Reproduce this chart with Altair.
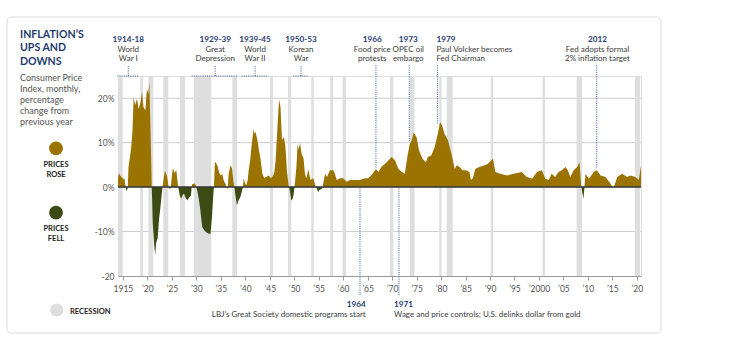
import altair as alt
import pandas as pd

# ---------------- data ----------------
years = [1914.0, 1914.2, 1914.5, 1914.8, 1915.0, 1915.3, 1915.55, 1915.8, 1916.0, 1916.15,
         1916.4, 1916.7, 1916.95, 1917.2, 1917.5, 1917.9, 1918.2, 1918.6, 1918.9, 1919.2,
         1919.6, 1919.9, 1920.2, 1920.4, 1920.6, 1920.9, 1921.1, 1921.4, 1921.6, 1921.8,
         1922.1, 1922.4, 1922.6, 1922.9, 1923.1, 1923.4, 1923.6, 1924.0, 1924.35, 1924.6,
         1924.8, 1925.0, 1925.2, 1925.6, 1925.9, 1926.3, 1926.6, 1926.9, 1927.2, 1927.5,
         1927.8, 1928.2, 1928.5, 1928.9, 1929.05, 1929.2, 1929.6, 1929.9, 1930.0, 1930.2,
         1930.5, 1930.8, 1931.0, 1931.2, 1931.5, 1931.9, 1932.3, 1932.6, 1932.9, 1933.2,
         1933.45, 1933.6, 1933.8, 1934.0, 1934.3, 1934.7, 1935.0, 1935.3, 1935.6, 1936.0,
         1936.15, 1936.3, 1936.45, 1936.6, 1937.0, 1937.3, 1937.6, 1937.8, 1938.0, 1938.3,
         1938.6, 1939.0, 1939.35, 1939.5, 1939.7, 1940.0, 1940.2, 1940.5, 1940.7, 1941.0,
         1941.3, 1941.7, 1941.9, 1942.1, 1942.5, 1942.8, 1943.1, 1943.5, 1943.9, 1944.2,
         1944.8, 1945.2, 1945.5, 1945.9, 1946.2, 1946.5, 1946.9, 1947.2, 1947.5, 1947.9,
         1948.2, 1948.5, 1948.85, 1949.0, 1949.2, 1949.4, 1949.7, 1949.9, 1950.05, 1950.2,
         1950.45, 1950.7, 1950.9, 1951.2, 1951.5, 1951.9, 1952.2, 1952.5, 1952.9, 1953.3,
         1953.9, 1954.3, 1954.5, 1954.9, 1955.2, 1955.6, 1955.8, 1956.3, 1956.7, 1957.3,
         1958.0, 1958.3, 1958.7, 1959.4, 1960.0, 1960.7, 1961.4, 1962.4, 1963.4, 1964.5,
         1965.1, 1965.8, 1966.7, 1967.2, 1967.8, 1968.9, 1969.9, 1970.6, 1971.3, 1972.0,
         1972.6, 1973.1, 1973.6, 1974.0, 1974.4, 1975.0, 1975.5, 1976.2, 1976.9, 1977.3,
         1978.0, 1978.7, 1979.4, 1979.8, 1980.2, 1980.7, 1981.4, 1982.1, 1982.8, 1983.2,
         1983.8, 1984.4, 1985.1, 1985.8, 1986.1, 1986.5, 1987.0, 1987.8, 1988.9, 1989.5,
         1990.2, 1990.6, 1991.1, 1992.1, 1993.5, 1994.8, 1996.5, 1997.5, 1998.6, 1999.6,
         2000.6, 2001.3, 2002.0, 2002.6, 2003.3, 2004.0, 2004.7, 2005.4, 2005.9, 2006.4,
         2007.1, 2007.8, 2008.3, 2008.6, 2008.7, 2008.8, 2009.1, 2009.3, 2009.5, 2010.2,
         2011.2, 2011.8, 2012.6, 2013.6, 2014.6, 2015.0, 2015.1, 2015.3, 2016.0, 2017.0,
         2018.0, 2018.7, 2019.7, 2020.1, 2020.4, 2020.6, 2020.85]
cpi = [2.0, 3.1, 2.5, 2.2, 1.8, 2.0, 0.0, -1.0, 0.0, 4.5,
       6.5, 9.0, 12.5, 20.3, 18.5, 19.9, 17.6, 19.0, 21.4, 18.0,
       17.3, 22.1, 21.0, 23.7, 15.0, 0.0, -8.0, -13.0, -15.3, -12.5,
       -11.5, -7.0, -5.2, -2.0, 0.0, 2.5, 3.7, 2.5, 0.0, -0.4,
       0.0, 2.5, 4.2, 3.2, 3.9, 0.0, -1.8, -2.6, -1.8, -1.5,
       -2.4, -3.0, -2.4, -1.9, 0.0, 0.7, 0.8, 0.4, 0.0, -0.8,
       -2.6, -5.0, -7.0, -9.0, -9.5, -10.1, -10.3, -10.5, -10.5, -6.7,
       -2.0, 0.0, 5.7, 5.4, 4.9, 3.2, 2.6, 3.0, 1.5, 0.6,
       0.0, -0.4, 0.0, 3.0, 4.9, 4.2, 1.1, 0.0, -2.0, -4.1,
       -3.0, -2.2, -0.8, 0.0, 1.9, 0.8, 0.4, 1.6, 3.8, 6.0,
       9.5, 13.1, 12.0, 12.4, 10.5, 8.3, 6.5, 3.0, 2.0, 2.3,
       2.6, 2.0, 2.3, 3.0, 6.0, 12.0, 19.7, 18.0, 10.6, 11.3,
       9.1, 3.8, 0.4, 0.0, -1.5, -3.0, -2.5, -1.5, 0.0, 1.5,
       4.5, 9.7, 8.5, 9.9, 7.5, 6.5, 2.9, 2.0, 4.0, 1.6,
       2.0, 0.4, 0.0, -1.1, -0.6, -0.4, 0.0, 3.0, 2.3, 3.8,
       3.8, 3.0, 1.6, 2.0, 2.0, 1.2, 1.6, 1.6, 1.6, 2.0,
       2.0, 2.7, 4.1, 3.4, 4.5, 5.6, 6.8, 6.0, 4.1, 3.4,
       3.0, 6.8, 9.7, 10.5, 12.3, 11.2, 8.3, 6.4, 5.6, 6.8,
       7.1, 9.0, 12.3, 14.6, 13.9, 12.0, 10.6, 7.6, 4.1, 4.9,
       4.5, 3.8, 3.8, 3.4, 1.6, 2.0, 4.1, 4.5, 4.9, 5.2,
       6.0, 6.4, 3.4, 3.0, 2.6, 3.0, 3.4, 2.3, 1.9, 3.4,
       3.8, 1.9, 1.6, 3.0, 2.3, 3.4, 3.8, 4.5, 3.8, 2.3,
       3.8, 4.5, 5.6, 0.4, 0.0, -0.8, -2.6, 0.0, 3.0, 1.9,
       3.4, 3.8, 2.6, 2.3, 0.8, 0.0, -0.2, 0.0, 2.3, 3.0,
       2.3, 2.6, 2.3, 1.9, 1.6, 3.0, 4.9]

rec_start = [1914.06, 1918.55, 1920.2, 1923.25, 1926.66, 1929.52, 1937.35, 1945.05, 1948.73,
             1953.49, 1957.37, 1959.9, 1969.57, 1973.65, 1979.64, 1981.15, 1990.14, 2000.76,
             2007.71, 2019.62]
rec_end = [1914.96, 1919.1, 1921.2, 1924.27, 1927.68, 1933.06, 1938.31, 1945.66, 1949.4,
           1953.98, 1957.92, 1960.58, 1970.24, 1974.57, 1980.09, 1982.37, 1990.61, 2001.23,
           2008.79, 2020.64]

x_ticks = [1915, 1920, 1925, 1930, 1935, 1940, 1945, 1950, 1955, 1960, 1965, 1970, 1975,
           1980, 1985, 1990, 1995, 2000, 2005, 2010, 2015, 2020]
y_ticks = [-20, -10, 0, 10, 20]
grid_vals = [-10, 10, 20]

# top annotations
top_labels = ["1914-18", "1929-39", "1939-45", "1950-53", "1966", "1973", "1979", "2012"]
top_line1 = ["World", "Great", "World", "Korean", "Food price", "OPEC oil",
             "Paul Volcker becomes", "Fed adopts formal"]
top_line2 = ["War I", "Depression", "War II", "War", "protests", "embargo",
             "Fed Chairman", "2% inflation target"]
top_x = [1916.1, 1933.85, 1942.0, 1951.4, 1965.95, 1973.3, 1979.05, 2011.95]
top_left_aligned = [False, False, False, False, False, False, True, False]

# period brackets
br_start = [1913.86, 1929.05, 1939.27, 1949.81]
br_end = [1918.29, 1938.57, 1944.7, 1952.87]
br_mid = [1916.1, 1933.85, 1942.0, 1951.4]

# event lines from the top
ev_x = [1966.7, 1973.5, 1979.3, 2011.8]
ev_bottom = [4.3, 10.2, 14.2, 4.2]

# bottom annotations
bot_labels = ["1964", "1971"]
bot_desc = ["LBJ\u2019s Great Society domestic programs start",
            "Wage and price controls; U.S. delinks dollar from gold"]
bot_x = [1963.44, 1971.4]
bot_text_x = [1964.6, 1970.4]

title_lines = ["INFLATION\u2019S", "UPS AND", "DOWNS"]
subtitle_lines = ["Consumer Price", "Index, monthly,", "percentage", "change from", "previous year"]

# ---------------- styling ----------------
GOLD = "#9a7300"
GREEN = "#3c4a14"
REC = "#dedede"
NAVY = "#1f3a70"
DOT = "#3b5a9a"
FONT = "Lato"

W, H = 523, 200
xs = alt.Scale(domain=[1914.0, 2020.85], nice=False, zero=False)
ys = alt.Scale(domain=[-20, 25], nice=False, zero=False)

x_axis = alt.Axis(values=x_ticks, format="d", title=None, grid=False,
                  labelExpr="datum.value == 1915 ? '1915' : (datum.value == 2000 ? '\u20192000' : '\u2019' + slice(toString(datum.value), 2))",
                  domainColor="#9a9a9a", tickColor="#9a9a9a", tickSize=4,
                  labelFont=FONT, labelFontSize=8.5, labelColor="#555555", labelPadding=4,
                  labelFlush=False)
y_axis = alt.Axis(values=y_ticks, title=None, domain=False, ticks=False, grid=False,
                  labelExpr="datum.value == -20 ? '-20' : datum.value + '%'",
                  labelFont=FONT, labelFontSize=8.5, labelColor="#555555", labelPadding=4)


def X(field):
    return alt.X(field, scale=xs, axis=x_axis)


def Y(field):
    return alt.Y(field, scale=ys, axis=y_axis)


one = pd.DataFrame({"k": [0]})
cpi_df = pd.DataFrame({"year": years, "v": cpi})
rec_df = pd.DataFrame({"start": rec_start, "end": rec_end})
grid_df = pd.DataFrame({"t": grid_vals})

grid = alt.Chart(grid_df).mark_rule(color="#cccccc", strokeWidth=1).encode(y=Y("t:Q"))

rec = alt.Chart(rec_df).mark_rect(color=REC).encode(
    x=X("start:Q"), x2="end:Q", y=alt.value(0), y2=alt.value(H))

base = alt.Chart(cpi_df).transform_calculate(pos="max(datum.v, 0)", neg="min(datum.v, 0)")
pos_area = base.mark_area(color=GOLD, interpolate="linear").encode(
    x=X("year:Q"), y=Y("pos:Q"), y2=alt.datum(0))
neg_area = base.mark_area(color=GREEN, interpolate="linear").encode(
    x=X("year:Q"), y=Y("neg:Q"), y2=alt.datum(0))

zero = alt.Chart(one).transform_calculate(z="0").mark_rule(
    color="#333333", strokeWidth=1.5).encode(y=Y("z:Q"))

dash = [1, 1.2]
br_df = pd.DataFrame({"s": br_start, "e": br_end, "m": br_mid})
brackets = alt.Chart(br_df).transform_calculate(top="25").mark_rule(
    color=DOT, strokeDash=dash, strokeWidth=1).encode(x=X("s:Q"), x2="e:Q", y=Y("top:Q"))
stubs = alt.Chart(br_df).transform_calculate(a="25", b="27.4").mark_rule(
    color=DOT, strokeDash=dash, strokeWidth=1).encode(x=X("m:Q"), y=Y("a:Q"), y2="b:Q")

ev_df = pd.DataFrame({"x": ev_x, "b": ev_bottom})
ev_lines = alt.Chart(ev_df).transform_calculate(t="27.4").mark_rule(
    color=DOT, strokeDash=dash, strokeWidth=1).encode(x=X("x:Q"), y=Y("t:Q"), y2="b:Q")

bot_df = pd.DataFrame({"x": bot_x})
bot_lines = alt.Chart(bot_df).transform_calculate(t="-0.3", b="-24.6").mark_rule(
    color=DOT, strokeDash=dash, strokeWidth=1).encode(x=X("x:Q"), y=Y("t:Q"), y2="b:Q")

# top annotation texts
top_df = pd.DataFrame({"label": top_labels, "l1": top_line1, "l2": top_line2,
                       "x": top_x, "left": top_left_aligned})
layers_top = []
for is_left, align in [(False, "center"), (True, "left")]:
    sub = top_df[top_df["left"] == is_left]
    for col, ypix, bold, color, fs in [("label", -36.5, True, NAVY, 8.2),
                                       ("l1", -26.5, False, "#3a3a3a", 8.0),
                                       ("l2", -17, False, "#3a3a3a", 8.0)]:
        layers_top.append(
            alt.Chart(sub).mark_text(align=align, baseline="middle", font=FONT, fontSize=fs,
                                     fontWeight="bold" if bold else "normal", color=color).encode(
                x=X("x:Q"), y=alt.value(ypix), text=f"{col}:N"))

# bottom annotation texts
bot_tdf = pd.DataFrame({"label": bot_labels, "desc": bot_desc, "x": bot_text_x})
layers_bot = []
for i, align in [(0, "right"), (1, "left")]:
    sub = bot_tdf.iloc[[i]]
    layers_bot.append(alt.Chart(sub).mark_text(align=align, baseline="middle", font=FONT,
                                               fontSize=8.2, fontWeight="bold", color=NAVY).encode(
        x=X("x:Q"), y=alt.value(229), text="label:N"))
    layers_bot.append(alt.Chart(sub).mark_text(align=align, baseline="middle", font=FONT,
                                               fontSize=8.0, color="#3a3a3a").encode(
        x=X("x:Q"), y=alt.value(239), text="desc:N"))


# left panel
def txt(s, x, y, size, bold=False, color="#333333", align="left"):
    return alt.Chart(one).mark_text(align=align, baseline="middle", font=FONT, fontSize=size,
                                    fontWeight="bold" if bold else "normal", color=color).encode(
        x=alt.value(x), y=alt.value(y), text=alt.value(s))


left = []
for i, s in enumerate(title_lines):
    left.append(txt(s, -98, -41.5 + i * 13.6, 10.6, bold=True, color=NAVY))
for i, s in enumerate(subtitle_lines):
    left.append(txt(s, -98, 2.3 + i * 10.85, 9.0, color="#555555"))


def dot(x, y, color, size):
    return alt.Chart(one).mark_circle(color=color, opacity=1, size=size).encode(
        x=alt.value(x), y=alt.value(y))


left += [dot(-62, 72.3, GOLD, 190), dot(-62, 136.7, GREEN, 190), dot(-61.3, 234, REC, 175)]
left += [txt("PRICES", -62, 89, 7.5, True, "#222222", "center"),
         txt("ROSE", -62, 99, 7.5, True, "#222222", "center"),
         txt("PRICES", -62, 153.3, 7.5, True, "#222222", "center"),
         txt("FELL", -62, 163.3, 7.5, True, "#222222", "center"),
         txt("RECESSION", -48, 235.5, 7.5, True, "#222222", "left")]

frame = alt.Chart(one).mark_rect(filled=False, color="#d9d9d9", strokeWidth=1,
                                 cornerRadius=4).encode(
    x=alt.value(-111), x2=alt.value(543), y=alt.value(-59), y2=alt.value(257))

chart = alt.layer(grid, rec, pos_area, neg_area, zero, brackets, stubs, ev_lines, bot_lines,
                  *layers_top, *layers_bot, *left, frame).properties(
    width=W, height=H,
    autosize=alt.AutoSizeParams(type="none"),
    padding={"left": 118, "top": 76, "right": 99, "bottom": 72},
).configure_view(stroke=None).configure(font=FONT)

chart.save("out.html", embed_options={"renderer": "svg", "actions": False})
